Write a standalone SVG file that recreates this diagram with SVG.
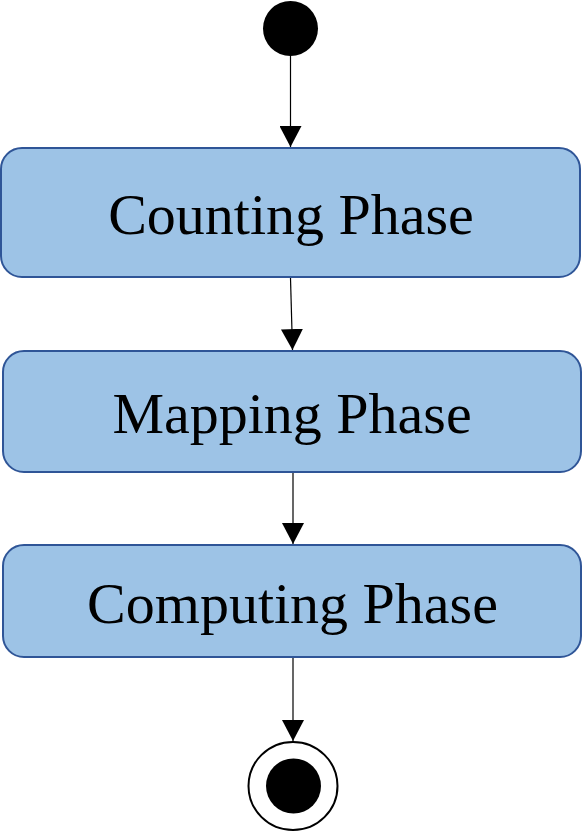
<svg xmlns="http://www.w3.org/2000/svg" width="582" height="832" viewBox="0 0 582 832">
<style>
.box{fill:#9DC3E6;stroke:#2F5597;stroke-width:2}
.lbl{font-family:"Liberation Serif","Times New Roman",serif;font-size:58px;fill:#000;text-anchor:middle}
.edge{stroke:#000;stroke-width:1.2;fill:none}
</style>
<defs>
<marker id="arr" markerUnits="userSpaceOnUse" markerWidth="22" markerHeight="22" viewBox="0 0 20 20" refX="19" refY="10" orient="auto">
<path d="M0,0 L19,10 L0,20 Z" fill="#000"/>
</marker>
</defs>
<rect width="582" height="832" fill="#fff"/>
<g id="connectors">
<line class="edge" x1="290.5" y1="56" x2="290.5" y2="147" marker-end="url(#arr)"/>
<line class="edge" x1="290.5" y1="278" x2="292.5" y2="350" marker-end="url(#arr)"/>
<line class="edge" x1="293" y1="473" x2="293" y2="544" marker-end="url(#arr)"/>
<line class="edge" x1="293" y1="658" x2="293" y2="741" marker-end="url(#arr)"/>
</g>
<g id="start">
<ellipse cx="290.5" cy="28.5" rx="27.5" ry="27.5" fill="#000"/>
</g>
<g id="counting">
<rect class="box" x="1" y="148" width="579" height="129" rx="21"/>
<text class="lbl" x="291" y="234">Counting Phase</text>
</g>
<g id="mapping">
<rect class="box" x="3" y="351" width="578" height="121" rx="21"/>
<text class="lbl" x="292" y="433">Mapping Phase</text>
</g>
<g id="computing">
<rect class="box" x="3" y="545" width="578" height="112" rx="21"/>
<text class="lbl" x="292.5" y="623">Computing Phase</text>
</g>
<g id="end">
<ellipse cx="293" cy="786" rx="44.5" ry="44" fill="#fff" stroke="#000" stroke-width="2"/>
<ellipse cx="293.5" cy="786" rx="27.5" ry="27.5" fill="#000"/>
</g>
</svg>
